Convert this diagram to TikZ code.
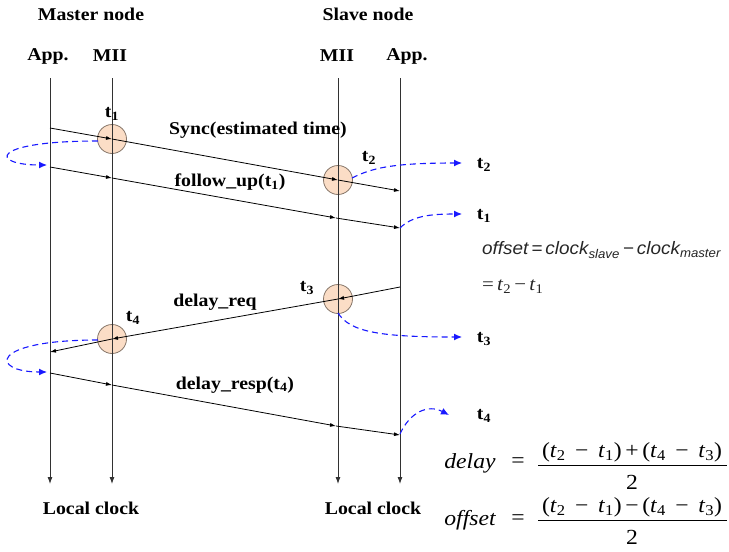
\documentclass[tikz,border=0pt]{standalone}
\usepackage{fontspec}
\setmainfont{Liberation Serif}[FakeStretch=1.1]
\newfontfamily\eqsans{Liberation Sans}[FakeStretch=1.05]
\usetikzlibrary{arrows.meta}
\definecolor{peach}{RGB}{251,221,198}
\definecolor{circedge}{RGB}{135,118,105}
\definecolor{dashblue}{RGB}{25,25,255}
\definecolor{linegray}{RGB}{50,50,50}
\newcommand\myt[1]{\textit{t}\textsubscript{#1}}
\newcommand\mybt[1]{t\textsubscript{#1}}
\tikzset{
  lbl/.style={font=\bfseries\fontsize{18}{21}\selectfont, inner sep=0pt},
  vline/.style={draw=linegray, line width=0.9pt, -{Latex[length=7pt,width=5pt]}},
  msg/.style={draw=black, line width=0.8pt, -{Latex[length=6pt,width=4pt]}},
  tstamp/.style={circle, minimum size=29pt, inner sep=0pt, draw=circedge, line width=0.8pt, fill=peach},
  blue dash/.style={draw=dashblue, line width=1.1pt, dash pattern=on 6pt off 4pt, -{Latex[length=8pt,width=7pt]}},
  eqtxt/.style={font=\fontsize{21.5}{24}\selectfont, inner sep=0pt},
  eqit/.style={font=\itshape\fontsize{21.5}{24}\selectfont, inner sep=0pt},
}
\begin{document}
\begin{tikzpicture}[x=1pt,y=-1pt]
\useasboundingbox (0,0) rectangle (729,552);
% headings
\node[lbl] (master) at (91,14) {Master node};
\node[lbl] (slave) at (368,14) {Slave node};
\node[lbl] (mapp) at (48,56) {App.};
\node[lbl] (mmii) at (110,56) {MII};
\node[lbl] (smii) at (337,56) {MII};
\node[lbl] (sapp) at (407,56) {App.};
\node[lbl] (lc1) at (91,508) {Local clock};
\node[lbl] (lc2) at (373,508) {Local clock};
% time-stamp circles
\node[tstamp] (c1) at (112,139) {};
\node[tstamp] (c2) at (338,180) {};
\node[tstamp] (c3) at (338,299) {};
\node[tstamp] (c4) at (112,339) {};
% vertical time lines
\coordinate (mAt) at (50,78);  \coordinate (mAb) at (50,484);
\coordinate (mMt) at (112,78); \coordinate (mMb) at (112,484);
\coordinate (sMt) at (338,78); \coordinate (sMb) at (338,484);
\coordinate (sAt) at (400,78); \coordinate (sAb) at (400,484);
\draw[vline] (mAt) -- (mAb);
\draw[vline] (mMt) -- (mMb);
\draw[vline] (sMt) -- (sMb);
\draw[vline] (sAt) -- (sAb);
% Sync
\coordinate (s0) at (50,128); \coordinate (s3) at (400,191);
\draw[msg] (s0) -- (c1.center);
\draw[msg] (c1.center) -- (c2.center);
\draw[msg] (c2.center) -- (s3);
% follow_up
\coordinate (f0) at (50,167); \coordinate (f1) at (112,178);
\coordinate (f2) at (336,218); \coordinate (f3) at (400,228);
\draw[msg] (f0) -- (f1);
\draw[msg] (f1) -- (f2);
\draw[msg] (f2) -- (f3);
% delay_req
\coordinate (r0) at (400,287); \coordinate (r3) at (50,352);
\draw[msg] (r0) -- (c3.center);
\draw[msg] (c3.center) -- (c4.center);
\draw[msg] (c4.center) -- (r3);
% delay_resp
\coordinate (p0) at (50,373); \coordinate (p1) at (112,385);
\coordinate (p2) at (336,426); \coordinate (p3) at (400,435);
\draw[msg] (p0) -- (p1);
\draw[msg] (p1) -- (p2);
\draw[msg] (p2) -- (p3);
% message labels
\node[lbl] (syncl) at (258,130) {Sync(estimated time)};
\node[lbl] (fupl) at (230,182) {follow\_up(\mybt{1})};
\node[lbl] (dreql) at (215,302) {delay\_req};
\node[lbl] (drespl) at (235,385) {delay\_resp(\mybt{4})};
% timestamp labels
\node[lbl] (t1l) at (112,114) {\mybt{1}};
\node[lbl] (t2l) at (369,158) {\mybt{2}};
\node[lbl] (t3l) at (307,288) {\mybt{3}};
\node[lbl] (t4l) at (133,318) {\mybt{4}};
% right-side time labels
\node[lbl] (rt2) at (484,165) {\mybt{2}};
\node[lbl] (rt1) at (484,216) {\mybt{1}};
\node[lbl] (rt3) at (484,339) {\mybt{3}};
\node[lbl] (rt4) at (484,416) {\mybt{4}};
% blue dashed arrows
\coordinate (b1s) at (98,141); \coordinate (b1e) at (47,165);
\draw[blue dash] (b1s) .. controls (-12,141) and (-10,165) .. (b1e);
\coordinate (b2s) at (352,178); \coordinate (b2e) at (462,163);
\draw[blue dash] (b2s) .. controls (372,168) and (392,163) .. (b2e);
\coordinate (b3s) at (400,228); \coordinate (b3e) at (462,214);
\draw[blue dash] (b3s) .. controls (412,216) and (430,214) .. (b3e);
\coordinate (b4s) at (338,313); \coordinate (b4e) at (462,337);
\draw[blue dash] (b4s) .. controls (350,332) and (380,337) .. (b4e);
\coordinate (b5s) at (98,340); \coordinate (b5e) at (47,372);
\draw[blue dash] (b5s) .. controls (-12,340) and (-10,372) .. (b5e);
\coordinate (b6s) at (400,434); \coordinate (b6e) at (449,415);
\draw[blue dash] (b6s) .. controls (410,412) and (428,404) .. (b6e);
% equations
\node[anchor=west, inner sep=0pt, text=black!85, font=\eqsans\itshape\fontsize{18}{20}\selectfont] (offdef) at (482,250) {offset\,=\,clock\textsubscript{slave}\,−\,clock\textsubscript{master}};
\node[anchor=west, inner sep=0pt, text=black!85, font=\fontsize{19}{22}\selectfont] (offres) at (482,287) {=\,\myt{2}\,−\,\myt{1}};
\node[eqit] (delayl) at (470,463) {delay};
\node[eqtxt] (deq) at (518,463) {=};
\node[eqtxt] (dnum) at (632,452) {(\myt{2} \,−\, \myt{1})\,+\,(\myt{4} \,−\, \myt{3})};
\coordinate (dbl) at (538,465); \coordinate (dbr) at (727,465);
\draw[line width=0.9pt] (dbl) -- (dbr);
\node[eqtxt] (dden) at (632,482) {2};
\node[eqit] (offl) at (470,520) {offset};
\node[eqtxt] (oeq) at (518,520) {=};
\node[eqtxt] (onum) at (632,507) {(\myt{2} \,−\, \myt{1})\,−\,(\myt{4} \,−\, \myt{3})};
\coordinate (obl) at (538,520); \coordinate (obr) at (727,520);
\draw[line width=0.9pt] (obl) -- (obr);
\node[eqtxt] (oden) at (632,537) {2};
\end{tikzpicture}
\end{document}
